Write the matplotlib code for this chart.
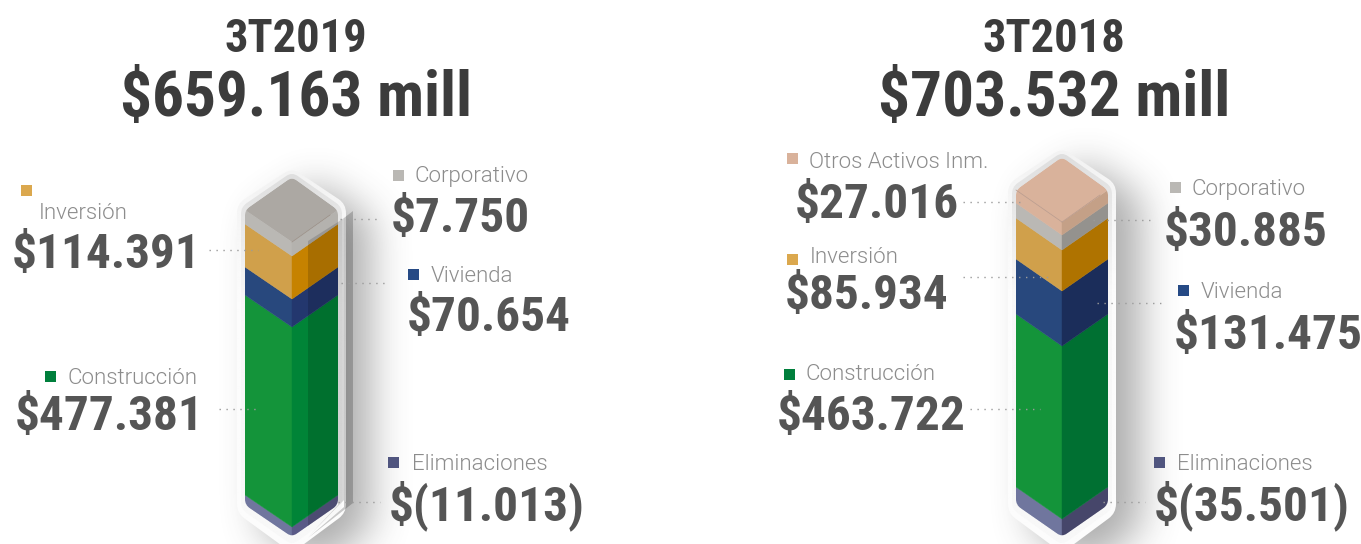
import matplotlib
matplotlib.use('Agg')
import matplotlib.pyplot as plt
from matplotlib.patches import PathPatch, Polygon, Rectangle
from matplotlib.path import Path
import numpy as np

titles = ['3T2019', '3T2018']
totals = ['$659.163 mill', '$703.532 mill']

segments_2019 = ['Eliminaciones', 'Construcción', 'Vivienda', 'Inversión', 'Corporativo']
values_2019 = ['$(11.013)', '$477.381', '$70.654', '$114.391', '$7.750']
heights_2019 = [10, 200, 28, 43, 14]  # band heights

segments_2018 = ['Eliminaciones', 'Construcción', 'Vivienda', 'Inversión', 'Corporativo', 'Otros Activos Inm.']
values_2018 = ['$(35.501)', '$463.722', '$131.475', '$85.934', '$30.885', '$27.016']
heights_2018 = [18, 173, 55, 41, 15, 13]

left_colors = {'Eliminaciones': '#70769e', 'Construcción': '#14943a', 'Vivienda': '#28487d',
               'Inversión': '#d0a04b', 'Corporativo': '#bab8b4', 'Otros Activos Inm.': '#d9b29b'}
right_colors = {'Eliminaciones': '#46466a', 'Construcción': '#007032', 'Vivienda': '#1b2d5a',
                'Inversión': '#af7300', 'Corporativo': '#94928e', 'Otros Activos Inm.': '#c4a087'}
right_colors_2019 = {'Eliminaciones': '#5a5a87', 'Construcción': '#008437', 'Vivienda': '#23376e',
                     'Inversión': '#c68200', 'Corporativo': '#b4b2ae'}
swatch_colors = dict(left_colors, **{'Eliminaciones': '#50557f', 'Construcción': '#007f3c',
                                     'Vivienda': '#264a85', 'Inversión': '#dba84e'})

# x of swatch, y of swatch, x of label, baseline of label, x of value, baseline of value
layout_2019 = {'Corporativo': (393, 170, 415, 182, 391, 232),
               'Vivienda': (408, 269, 431, 282, 407, 331),
               'Eliminaciones': (388, 457, 412, 470, 389, 520),
               'Inversión': (21, 185, 39, 219, 12, 268),
               'Construcción': (45, 371, 68, 384, 15, 430)}
layout_2018 = {'Otros Activos Inm.': (787, 153, 809, 168, 795, 218),
               'Corporativo': (1170, 182, 1192, 195, 1164, 246),
               'Inversión': (787, 254, 810, 263, 785, 309),
               'Vivienda': (1178, 285, 1201, 298, 1174, 349),
               'Construcción': (784, 369, 806, 380, 777, 430),
               'Eliminaciones': (1154, 457, 1177, 470, 1154, 520)}

leaders_2019 = [(209, 258, 250), (340, 380, 219), (341, 386, 283), (219, 260, 409), (338, 380, 502)]
leaders_2018 = [(963, 1025, 201.5), (1093, 1153, 220), (963, 1050, 277), (1097, 1163, 303),
                (970, 1040, 409), (1103, 1145, 502)]

num_font = ['Roboto Condensed', 'Liberation Sans']
label_font = ['Roboto', 'DejaVu Sans']

fig = plt.figure(figsize=(13.61, 5.44), dpi=100)
ax = fig.add_axes([0, 0, 1, 1])
ax.set_xlim(0, 1361)
ax.set_ylim(544, 0)
ax.axis('off')


def rounded(pts, r):
    # closed path with the corners cut by a quadratic curve
    pts = [np.array(p, dtype=float) for p in pts]
    verts, codes = [], []
    n = len(pts)
    for i in range(n):
        p, a, b = pts[i], pts[i - 1], pts[(i + 1) % n]
        p1 = p + (a - p) / np.linalg.norm(a - p) * r
        p2 = p + (b - p) / np.linalg.norm(b - p) * r
        verts += [p1, p, p2]
        codes += [Path.MOVETO if i == 0 else Path.LINETO, Path.CURVE3, Path.CURVE3]
    verts.append(verts[0])
    codes.append(Path.CLOSEPOLY)
    return Path(verts, codes)


def blur(a, size):
    kernel = np.ones(size) / size
    for _ in range(3):
        a = np.apply_along_axis(lambda r: np.convolve(r, kernel, mode='same'), 0, a)
        a = np.apply_along_axis(lambda r: np.convolve(r, kernel, mode='same'), 1, a)
    return a


def draw_shadow(pts, dx, dy):
    x0, x1 = int(pts[0][0]) - 90, int(pts[2][0]) + 130
    xx, yy = np.meshgrid(np.arange(x0, x1), np.arange(100, 640))
    mask = Path(pts).contains_points(np.c_[xx.ravel() - dx, yy.ravel() - dy]).reshape(xx.shape)
    alpha = blur(mask.astype(float), 37)[:444, :] * 0.45
    img = np.zeros(alpha.shape + (4,))
    img[..., :3] = 0.3
    img[..., 3] = alpha
    ax.imshow(img, extent=(x0, x1, 544, 100), zorder=1, interpolation='bilinear', aspect='auto')


def draw_halo(pts, r, shade_top, shade_bottom, z):
    patch = PathPatch(rounded(pts, r), fc='none', ec='none', zorder=z)
    ax.add_patch(patch)
    ys = [p[1] for p in pts]
    xs = [p[0] for p in pts]
    grad = np.interp(np.linspace(0, 1, 200), [0, 0.35, 1], [shade_top, shade_bottom, shade_bottom])[:, None]
    im = ax.imshow(grad, extent=(min(xs), max(xs), max(ys), min(ys)), cmap='gray', vmin=0, vmax=1,
                   zorder=z, aspect='auto')
    im.set_clip_path(patch)


def draw_prism(x_left, x_mid, x_right, y_base, heights, segments, right, split=None):
    drop = 32
    top = y_base - sum(heights)
    apex = top - drop - 1

    halo = [(x_left - 8, top - 6), (x_mid, apex - 9), (x_right + 8, top - 6),
            (x_right + 8, y_base + 8), (x_mid, y_base + drop + 16), (x_left - 8, y_base + 8)]
    inner = [(x_left - 4, top - 3), (x_mid, apex - 5), (x_right + 4, top - 3),
             (x_right + 4, y_base + 4), (x_mid, y_base + drop + 8), (x_left - 4, y_base + 4)]
    draw_shadow(halo, 24, 14)
    draw_halo(halo, 9, 0.95, 0.985, 2)
    draw_halo(inner, 7, 0.87, 0.97, 2.1)

    if split is not None:
        ax.add_patch(Polygon([(x_right, top + 12), (x_right + 6, top + 8), (x_right + 6, y_base - 5),
                              (x_mid + 16, y_base + drop), (x_right, y_base)],
                             fc='black', alpha=0.15, ec='none', zorder=2.5))
        ax.add_patch(Polygon([(x_right + 6, top + 8), (x_right + 15, top + 1), (x_right + 15, y_base - 2),
                              (x_mid + 16, y_base + drop + 1), (x_right + 6, y_base + 2)],
                             fc='black', alpha=0.2, ec='none', zorder=2.5))

    outline = [(x_left, top), (x_mid, apex), (x_right, top), (x_right, y_base),
               (x_mid, y_base + drop), (x_left, y_base)]
    clip = PathPatch(rounded(outline, 6), fc='none', ec='none', zorder=3)
    ax.add_patch(clip)

    y = y_base
    for name, h in zip(segments, heights):
        y2 = y - h
        lf = Polygon([(x_left, y), (x_mid, y + drop), (x_mid, y2 + drop), (x_left, y2)],
                     fc=left_colors[name], ec=left_colors[name], lw=0.3, zorder=3)
        rf = Polygon([(x_mid, y + drop), (x_right, y), (x_right, y2), (x_mid, y2 + drop)],
                     fc=right[name], ec=right[name], lw=0.3, zorder=3)
        for face in (lf, rf):
            ax.add_patch(face)
            face.set_clip_path(clip.get_path(), clip.get_transform())
        y = y2

    name = segments[-1]
    top_color = '#aca8a3' if split is not None else left_colors[name]
    cap = Polygon([(x_left, top), (x_mid, apex), (x_right, top), (x_mid, top + drop)],
                  fc=top_color, ec='none', zorder=3.2)
    ax.add_patch(cap)
    cap.set_clip_path(clip.get_path(), clip.get_transform())
    edge = '#9a8f86' if split is not None else '#b89a8c'
    ax.plot([x_mid, x_right - 8], [top + drop, top + 5], color=edge, lw=0.5, zorder=3.3)
    if split is None:
        ax.plot([x_left, x_mid], [top, top + drop], color=edge, lw=0.5, zorder=3.3)
    else:
        shade = Polygon([(split, top + drop - 1), (x_right, top + 12), (x_right, y_base + 10),
                         (split, y_base + drop + 10)], fc='black', alpha=0.15, ec='none', zorder=3.4)
        ax.add_patch(shade)
        shade.set_clip_path(clip.get_path(), clip.get_transform())


def draw_labels(segments, values, layout):
    for name, val in zip(segments, values):
        sx, sy, lx, ly, vx, vy = layout[name]
        ax.add_patch(Rectangle((sx, sy), 11, 11, fc=swatch_colors[name], ec='none', zorder=5))
        ax.text(lx, ly, name, family=label_font, weight=300, fontsize=16, color='#8c8c8c',
                ha='left', va='baseline', zorder=5)
        ax.text(vx, vy, val, family=num_font, weight='bold', fontsize=35.5, color='#555555',
                ha='left', va='baseline', zorder=5)


def draw_leaders(leaders):
    for x0, x1, y in leaders:
        ax.plot([x0, x1], [y, y], color='#9a9a9a', lw=1, linestyle=(0, (1, 4)), zorder=4)


draw_prism(245, 292, 338, 505, heights_2019, segments_2019, right_colors_2019, split=308)
draw_prism(1016, 1062, 1108, 505, heights_2018, segments_2018, right_colors)
draw_labels(segments_2019, values_2019, layout_2019)
draw_labels(segments_2018, values_2018, layout_2018)
draw_leaders(leaders_2019)
draw_leaders(leaders_2018)

for cx, title, total in zip([296, 1054], titles, totals):
    ax.text(cx, 52, title, family=num_font, weight='bold', fontsize=33.5, color='#3c3c3c', ha='center', va='baseline')
    ax.text(cx, 116, total, family=num_font, weight='bold', fontsize=45.5, color='#3c3c3c', ha='center', va='baseline')

ax.set_xlim(0, 1361)
ax.set_ylim(544, 0)
fig.savefig('out.png', dpi=100)
